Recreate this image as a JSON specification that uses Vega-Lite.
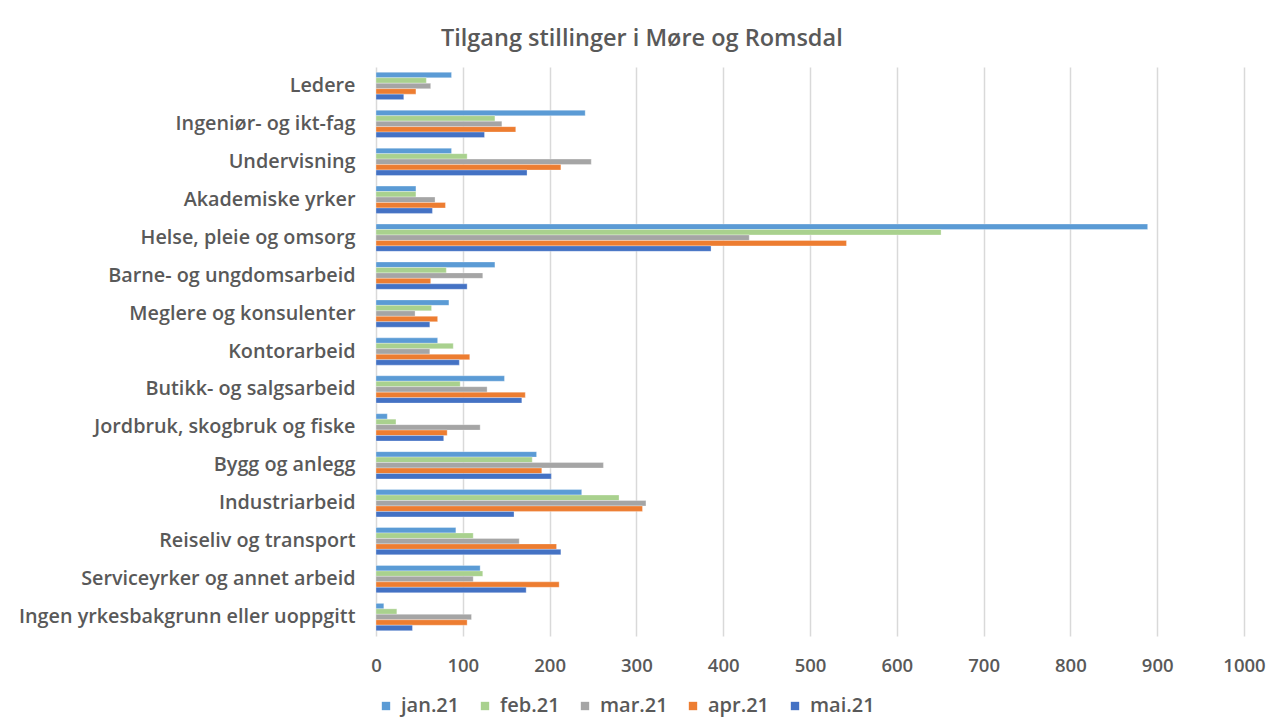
{
  "$schema": "https://vega.github.io/schema/vega-lite/v6.json",
  "autosize": {"type": "fit", "contains": "padding"},
  "width": 1274,
  "height": 724,
  "padding": {"left": 18, "right": 8, "top": 26, "bottom": 8},
  "background": "white",
  "title": {
    "text": "Tilgang stillinger i Møre og Romsdal",
    "font": "Open Sans",
    "fontSize": 23.5,
    "fontWeight": 600,
    "color": "#595959",
    "anchor": "middle",
    "frame": "bounds",
    "offset": 17
  },
  "config": {
    "view": {"stroke": null},
    "font": "Open Sans"
  },
  "data": {
    "values": [
      {"yrke": "Ledere", "mnd": "jan.21", "antall": 87},
      {"yrke": "Ledere", "mnd": "feb.21", "antall": 58},
      {"yrke": "Ledere", "mnd": "mar.21", "antall": 63},
      {"yrke": "Ledere", "mnd": "apr.21", "antall": 46},
      {"yrke": "Ledere", "mnd": "mai.21", "antall": 32},
      {"yrke": "Ingeniør- og ikt-fag", "mnd": "jan.21", "antall": 241},
      {"yrke": "Ingeniør- og ikt-fag", "mnd": "feb.21", "antall": 137},
      {"yrke": "Ingeniør- og ikt-fag", "mnd": "mar.21", "antall": 145},
      {"yrke": "Ingeniør- og ikt-fag", "mnd": "apr.21", "antall": 161},
      {"yrke": "Ingeniør- og ikt-fag", "mnd": "mai.21", "antall": 125},
      {"yrke": "Undervisning", "mnd": "jan.21", "antall": 87},
      {"yrke": "Undervisning", "mnd": "feb.21", "antall": 105},
      {"yrke": "Undervisning", "mnd": "mar.21", "antall": 248},
      {"yrke": "Undervisning", "mnd": "apr.21", "antall": 213},
      {"yrke": "Undervisning", "mnd": "mai.21", "antall": 174},
      {"yrke": "Akademiske yrker", "mnd": "jan.21", "antall": 46},
      {"yrke": "Akademiske yrker", "mnd": "feb.21", "antall": 46},
      {"yrke": "Akademiske yrker", "mnd": "mar.21", "antall": 68},
      {"yrke": "Akademiske yrker", "mnd": "apr.21", "antall": 80},
      {"yrke": "Akademiske yrker", "mnd": "mai.21", "antall": 65},
      {"yrke": "Helse, pleie og omsorg", "mnd": "jan.21", "antall": 889},
      {"yrke": "Helse, pleie og omsorg", "mnd": "feb.21", "antall": 651},
      {"yrke": "Helse, pleie og omsorg", "mnd": "mar.21", "antall": 430},
      {"yrke": "Helse, pleie og omsorg", "mnd": "apr.21", "antall": 542},
      {"yrke": "Helse, pleie og omsorg", "mnd": "mai.21", "antall": 386},
      {"yrke": "Barne- og ungdomsarbeid", "mnd": "jan.21", "antall": 137},
      {"yrke": "Barne- og ungdomsarbeid", "mnd": "feb.21", "antall": 81},
      {"yrke": "Barne- og ungdomsarbeid", "mnd": "mar.21", "antall": 123},
      {"yrke": "Barne- og ungdomsarbeid", "mnd": "apr.21", "antall": 63},
      {"yrke": "Barne- og ungdomsarbeid", "mnd": "mai.21", "antall": 105},
      {"yrke": "Meglere og konsulenter", "mnd": "jan.21", "antall": 84},
      {"yrke": "Meglere og konsulenter", "mnd": "feb.21", "antall": 64},
      {"yrke": "Meglere og konsulenter", "mnd": "mar.21", "antall": 45},
      {"yrke": "Meglere og konsulenter", "mnd": "apr.21", "antall": 71},
      {"yrke": "Meglere og konsulenter", "mnd": "mai.21", "antall": 62},
      {"yrke": "Kontorarbeid", "mnd": "jan.21", "antall": 71},
      {"yrke": "Kontorarbeid", "mnd": "feb.21", "antall": 89},
      {"yrke": "Kontorarbeid", "mnd": "mar.21", "antall": 62},
      {"yrke": "Kontorarbeid", "mnd": "apr.21", "antall": 108},
      {"yrke": "Kontorarbeid", "mnd": "mai.21", "antall": 96},
      {"yrke": "Butikk- og salgsarbeid", "mnd": "jan.21", "antall": 148},
      {"yrke": "Butikk- og salgsarbeid", "mnd": "feb.21", "antall": 97},
      {"yrke": "Butikk- og salgsarbeid", "mnd": "mar.21", "antall": 128},
      {"yrke": "Butikk- og salgsarbeid", "mnd": "apr.21", "antall": 172},
      {"yrke": "Butikk- og salgsarbeid", "mnd": "mai.21", "antall": 168},
      {"yrke": "Jordbruk, skogbruk og fiske", "mnd": "jan.21", "antall": 13},
      {"yrke": "Jordbruk, skogbruk og fiske", "mnd": "feb.21", "antall": 23},
      {"yrke": "Jordbruk, skogbruk og fiske", "mnd": "mar.21", "antall": 120},
      {"yrke": "Jordbruk, skogbruk og fiske", "mnd": "apr.21", "antall": 82},
      {"yrke": "Jordbruk, skogbruk og fiske", "mnd": "mai.21", "antall": 78},
      {"yrke": "Bygg og anlegg", "mnd": "jan.21", "antall": 185},
      {"yrke": "Bygg og anlegg", "mnd": "feb.21", "antall": 180},
      {"yrke": "Bygg og anlegg", "mnd": "mar.21", "antall": 262},
      {"yrke": "Bygg og anlegg", "mnd": "apr.21", "antall": 191},
      {"yrke": "Bygg og anlegg", "mnd": "mai.21", "antall": 202},
      {"yrke": "Industriarbeid", "mnd": "jan.21", "antall": 237},
      {"yrke": "Industriarbeid", "mnd": "feb.21", "antall": 280},
      {"yrke": "Industriarbeid", "mnd": "mar.21", "antall": 311},
      {"yrke": "Industriarbeid", "mnd": "apr.21", "antall": 307},
      {"yrke": "Industriarbeid", "mnd": "mai.21", "antall": 159},
      {"yrke": "Reiseliv og transport", "mnd": "jan.21", "antall": 92},
      {"yrke": "Reiseliv og transport", "mnd": "feb.21", "antall": 112},
      {"yrke": "Reiseliv og transport", "mnd": "mar.21", "antall": 165},
      {"yrke": "Reiseliv og transport", "mnd": "apr.21", "antall": 208},
      {"yrke": "Reiseliv og transport", "mnd": "mai.21", "antall": 213},
      {"yrke": "Serviceyrker og annet arbeid", "mnd": "jan.21", "antall": 120},
      {"yrke": "Serviceyrker og annet arbeid", "mnd": "feb.21", "antall": 123},
      {"yrke": "Serviceyrker og annet arbeid", "mnd": "mar.21", "antall": 112},
      {"yrke": "Serviceyrker og annet arbeid", "mnd": "apr.21", "antall": 211},
      {"yrke": "Serviceyrker og annet arbeid", "mnd": "mai.21", "antall": 173},
      {"yrke": "Ingen yrkesbakgrunn eller uoppgitt", "mnd": "jan.21", "antall": 9},
      {"yrke": "Ingen yrkesbakgrunn eller uoppgitt", "mnd": "feb.21", "antall": 24},
      {"yrke": "Ingen yrkesbakgrunn eller uoppgitt", "mnd": "mar.21", "antall": 110},
      {"yrke": "Ingen yrkesbakgrunn eller uoppgitt", "mnd": "apr.21", "antall": 105},
      {"yrke": "Ingen yrkesbakgrunn eller uoppgitt", "mnd": "mai.21", "antall": 42}
    ]
  },
  "mark": {"type": "bar", "stroke": "white", "strokeWidth": 0.5, "strokeOpacity": 0.6},
  "encoding": {
    "y": {
      "field": "yrke",
      "type": "nominal",
      "sort": null,
      "title": null,
      "scale": {"paddingInner": 0.28, "paddingOuter": 0.14},
      "axis": {
        "domain": false,
        "ticks": false,
        "labelFont": "Open Sans",
        "labelFontSize": 19.8,
        "labelFontWeight": 600,
        "labelColor": "#595959",
        "labelPadding": 21,
        "labelLimit": 400
      }
    },
    "yOffset": {
      "field": "mnd",
      "type": "nominal",
      "sort": ["jan.21", "feb.21", "mar.21", "apr.21", "mai.21"],
      "scale": {"paddingInner": 0, "paddingOuter": 0}
    },
    "x": {
      "field": "antall",
      "type": "quantitative",
      "title": null,
      "scale": {"domain": [0, 1000], "nice": false},
      "axis": {
        "values": [0, 100, 200, 300, 400, 500, 600, 700, 800, 900, 1000],
        "format": "d",
        "domain": false,
        "ticks": false,
        "grid": true,
        "gridColor": "#d9d9d9",
        "gridWidth": 1.5,
        "labelFont": "Open Sans",
        "labelFontSize": 18.5,
        "labelFontWeight": 600,
        "labelColor": "#595959",
        "labelPadding": 20,
        "labelFlush": false
      }
    },
    "color": {
      "field": "mnd",
      "type": "nominal",
      "sort": ["jan.21", "feb.21", "mar.21", "apr.21", "mai.21"],
      "scale": {
        "domain": ["jan.21", "feb.21", "mar.21", "apr.21", "mai.21"],
        "range": ["#5B9BD5", "#A9D18E", "#A5A5A5", "#ED7D31", "#4472C4"]
      },
      "legend": {
        "title": null,
        "orient": "bottom",
        "direction": "horizontal",
        "symbolType": "square",
        "symbolSize": 70,
        "symbolStrokeWidth": 0,
        "symbolOffset": 0,
        "labelOffset": 5,
        "labelFont": "Open Sans",
        "labelFontSize": 20,
        "labelFontWeight": 600,
        "labelColor": "#595959",
        "columnPadding": 15,
        "offset": 21
      }
    }
  }
}
